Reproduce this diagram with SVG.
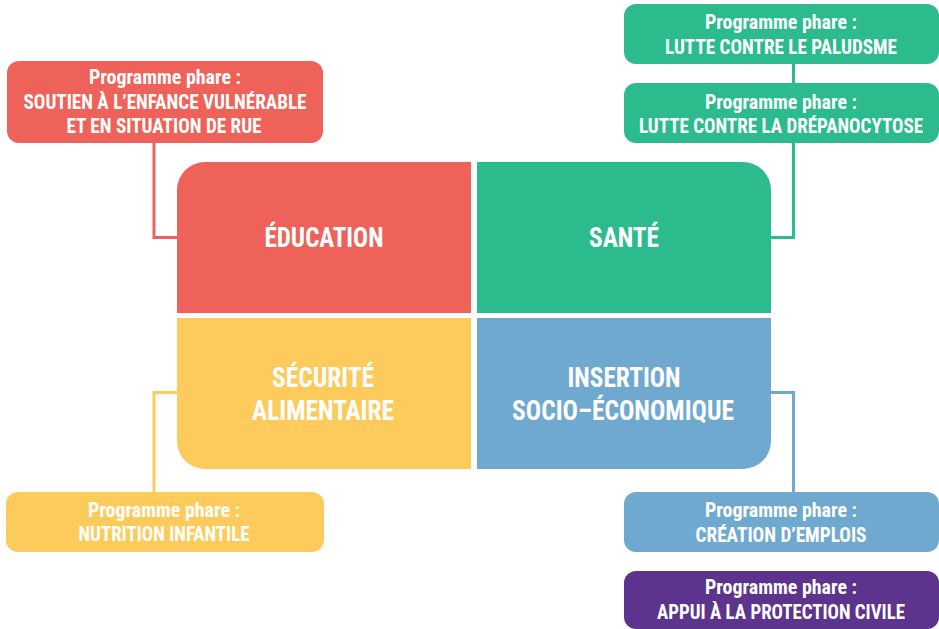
<svg xmlns="http://www.w3.org/2000/svg" width="939" height="629" viewBox="0 0 939 629">
<style>
text{font-family:"Roboto Condensed","Liberation Sans Narrow",Roboto,"Liberation Sans",sans-serif;font-weight:bold;fill:#fff;text-anchor:middle}
.s{font-size:19.5px}
.b{font-size:27.5px}
.c{fill:none;stroke-width:3}
.red{fill:#EF6259}.grn{fill:#2BBB8D}.yel{fill:#FDCB5B}.blu{fill:#6FA9CF}.pur{fill:#5C348E}
</style>
<rect width="939" height="629" fill="#fff"/>
<g id="connectors">
<polyline class="c" stroke="#EF6259" points="154,143 154,237.5 178,237.5"/>
<polyline class="c" stroke="#2BBB8D" points="793.5,64 793.5,84"/>
<polyline class="c" stroke="#2BBB8D" points="793.5,143 793.5,237.5 770,237.5"/>
<polyline class="c" stroke="#FDCB5B" points="178,392.5 154,392.5 154,492"/>
<polyline class="c" stroke="#6FA9CF" points="770,392.5 793.5,392.5 793.5,492"/>
</g>
<g id="education">
<path class="red" d="M177,190 a28,28 0 0 1 28,-28 H471 V313 H177 Z"/>
<text class="b" x="324" y="247" textLength="119" lengthAdjust="spacingAndGlyphs">ÉDUCATION</text>
</g>
<g id="sante">
<path class="grn" d="M477,162 H743 a28,28 0 0 1 28,28 V313 H477 Z"/>
<text class="b" x="624" y="247" textLength="70" lengthAdjust="spacingAndGlyphs">SANTÉ</text>
</g>
<g id="securite">
<path class="yel" d="M177,318 H471 V469 H205 a28,28 0 0 1 -28,-28 Z"/>
<text class="b" x="323" y="387" textLength="102" lengthAdjust="spacingAndGlyphs">SÉCURITÉ</text>
<text class="b" x="323" y="420" textLength="142" lengthAdjust="spacingAndGlyphs">ALIMENTAIRE</text>
</g>
<g id="insertion">
<path class="blu" d="M477,318 H771 V441 a28,28 0 0 1 -28,28 H477 Z"/>
<text class="b" x="624" y="387" textLength="113" lengthAdjust="spacingAndGlyphs">INSERTION</text>
<text class="b" x="623" y="420" textLength="222" lengthAdjust="spacingAndGlyphs">SOCIO–ÉCONOMIQUE</text>
</g>
<g id="prog-enfance">
<rect class="red" x="7" y="61" width="316" height="82" rx="12"/>
<text class="s" x="165" y="84" textLength="152" lengthAdjust="spacingAndGlyphs">Programme phare :</text>
<text class="s" x="165" y="109" textLength="283" lengthAdjust="spacingAndGlyphs">SOUTIEN À L’ENFANCE VULNÉRABLE</text>
<text class="s" x="164" y="133" textLength="195" lengthAdjust="spacingAndGlyphs">ET EN SITUATION DE RUE</text>
</g>
<g id="prog-paludisme">
<rect class="grn" x="624" y="4" width="315" height="60" rx="12"/>
<text class="s" x="781" y="29" textLength="152" lengthAdjust="spacingAndGlyphs">Programme phare :</text>
<text class="s" x="781" y="54" textLength="232" lengthAdjust="spacingAndGlyphs">LUTTE CONTRE LE PALUDSME</text>
</g>
<g id="prog-drepanocytose">
<rect class="grn" x="624" y="83" width="315" height="60" rx="12"/>
<text class="s" x="781" y="109" textLength="152" lengthAdjust="spacingAndGlyphs">Programme phare :</text>
<text class="s" x="781" y="133" textLength="284" lengthAdjust="spacingAndGlyphs">LUTTE CONTRE LA DRÉPANOCYTOSE</text>
</g>
<g id="prog-nutrition">
<rect class="yel" x="6" y="492" width="318" height="60" rx="12"/>
<text class="s" x="164" y="517" textLength="152" lengthAdjust="spacingAndGlyphs">Programme phare :</text>
<text class="s" x="164" y="541" textLength="171" lengthAdjust="spacingAndGlyphs">NUTRITION INFANTILE</text>
</g>
<g id="prog-emplois">
<rect class="blu" x="624" y="492" width="315" height="60" rx="12"/>
<text class="s" x="781" y="517" textLength="152" lengthAdjust="spacingAndGlyphs">Programme phare :</text>
<text class="s" x="781" y="542" textLength="171" lengthAdjust="spacingAndGlyphs">CRÉATION D’EMPLOIS</text>
</g>
<g id="prog-protection">
<rect class="pur" x="624" y="571" width="315" height="58" rx="12"/>
<text class="s" x="781" y="594" textLength="152" lengthAdjust="spacingAndGlyphs">Programme phare :</text>
<text class="s" x="781" y="619" textLength="248" lengthAdjust="spacingAndGlyphs">APPUI À LA PROTECTION CIVILE</text>
</g>
</svg>
